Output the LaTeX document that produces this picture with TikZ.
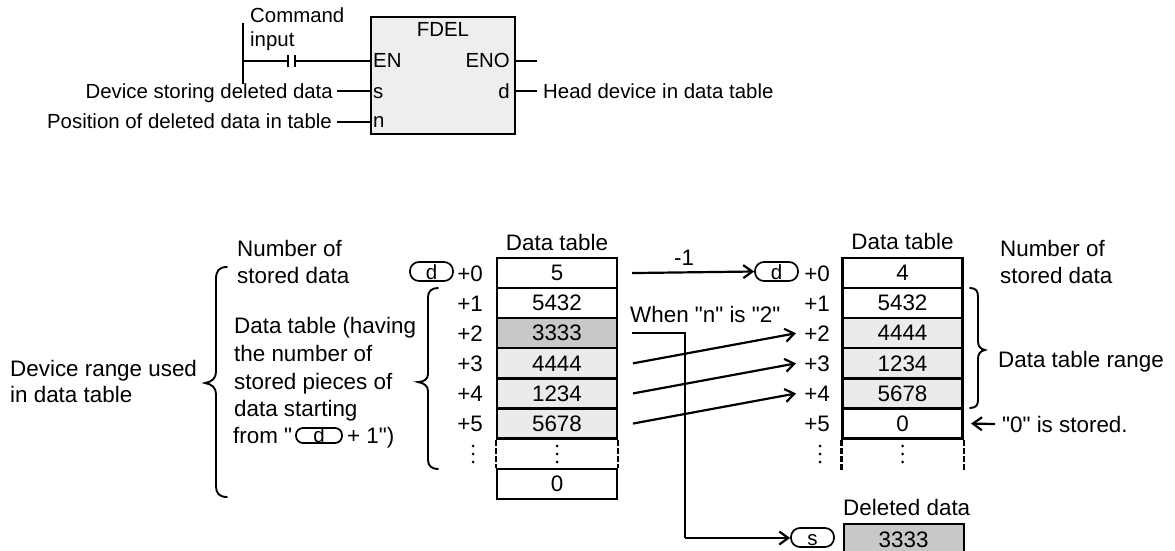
\documentclass[tikz,border=0pt]{standalone}
\usepackage{fontspec}
\setmainfont{Liberation Sans}
\usetikzlibrary{arrows.meta}
\definecolor{lightg}{HTML}{EBEBEB}
\definecolor{darkg}{HTML}{C8C8C8}
\definecolor{boxg}{HTML}{EEEEEE}
\newcommand\fontA{\fontsize{20.4}{24}\selectfont}
\newcommand\fontB{\fontsize{22.4}{26}\selectfont}
\newcommand\fontC{\fontsize{20.5}{24}\selectfont}
\newcommand\sq{\textquotedbl}
\tikzset{
  upl/.style={inner sep=0pt, font=\fontA},
  lbl/.style={inner sep=0pt, font=\fontB},
  cell/.style={draw, line width=2.3pt, minimum width=120pt, minimum height=30.1pt, inner sep=0pt, font=\fontB, anchor=center},
  devpill/.style={draw, line width=1.7pt, rounded corners=9pt, minimum width=43pt, minimum height=19pt, inner sep=0pt, text height=15pt, text depth=0pt, font=\fontC},
  conn/.style={line width=2.2pt},
  arr/.style={line width=2.2pt, -{Straight Barb[length=9pt,width=13pt,line width=2.2pt]}},
  bracepath/.style={line width=1.9pt, line cap=round},
  dotmark/.style={fill=black, draw=none},
}
\begin{document}
\begin{tikzpicture}[x=1pt,y=-1pt]
\useasboundingbox (0,0) rectangle (1175,551);

% ---------- upper function block ----------
\node[draw, fill=boxg, line width=2.3pt, minimum width=144pt, minimum height=117pt, inner sep=0pt, anchor=north west] (fdel) at (370,16) {};
\node[upl, anchor=base] (tfdel) at (443,37) {FDEL};
\node[upl, anchor=base west] (ten) at (373,67) {EN};
\node[upl, anchor=base east] (teno) at (510,67) {ENO};
\node[upl, anchor=base west] (ts) at (373,98) {s};
\node[upl, anchor=base east] (td) at (510,98) {d};
\node[upl, anchor=base west] (tn) at (373,127) {n};

\node[upl, anchor=base west] (tcmd) at (250,23) {Command};
\node[upl, anchor=base west] (tinp) at (250,47) {input};
\node[upl, anchor=base east] (tdev) at (333,98) {Device storing deleted data};
\node[upl, anchor=base east] (tpos) at (332,128) {Position of deleted data in table};
\node[upl, anchor=base west] (thead) at (543,99) {Head device in data table};

\coordinate (railtop) at (243,23);
\coordinate (railbot) at (243,84);
\coordinate (enrail) at (243,61);
\coordinate (c1) at (288,61);
\coordinate (c2) at (295,61);
\draw[conn] (railtop) -- (railbot);
\draw[conn] (enrail) -- (c1);
\draw[conn] (c1) ++(0,-6) -- ++(0,12);
\draw[conn] (c2) ++(0,-6) -- ++(0,12);
\draw[conn] (c2) -- (fdel.west |- c2);
\draw[conn] (337,91) coordinate (sL) -- (fdel.west |- sL);
\draw[conn] (337,122) coordinate (nL) -- (fdel.west |- nL);
\draw[conn] (fdel.east |- c2) -- (537,61) coordinate (enoR);
\draw[conn] (fdel.east |- sL) -- (537,91) coordinate (dR);

% ---------- left data table ----------
\node[lbl, anchor=base] (ldt) at (557,250) {Data table};
\node[cell, fill=white] (L0) at (557,273.05) {5};
\node[cell, fill=white] (L1) at (557,303.15) {5432};
\node[cell, fill=darkg] (L2) at (557,333.25) {3333};
\node[cell, fill=lightg] (L3) at (557,363.35) {4444};
\node[cell, fill=lightg] (L4) at (557,393.45) {1234};
\node[cell, fill=lightg] (L5) at (557,423.55) {5678};
\node[cell, fill=white] (L7) at (557,483.75) {0};
\draw[line width=2.3pt, dash pattern=on 6pt off 2pt] (L5.south west) -- (L7.north west);
\draw[line width=2.3pt, dash pattern=on 6pt off 2pt] (L5.south east) -- (L7.north east);
\foreach \yy in {446,454,462} {
  \fill[dotmark] (557,\yy) circle (1.5pt);
  \fill[dotmark] (473,\yy) circle (1.5pt);
}
\node[lbl, anchor=base east] (lp0) at (483,281) {+0};
\node[lbl, anchor=base east] (lp1) at (483,311) {+1};
\node[lbl, anchor=base east] (lp2) at (483,341) {+2};
\node[lbl, anchor=base east] (lp3) at (483,371) {+3};
\node[lbl, anchor=base east] (lp4) at (483,401) {+4};
\node[lbl, anchor=base east] (lp5) at (483,431) {+5};
\node[devpill] (pdL) at (431.5,271.5) {d};

% ---------- right data table ----------
\node[lbl, anchor=base] (rdt) at (902.5,249) {Data table};
\node[cell, fill=white] (R0) at (902.5,273.05) {4};
\node[cell, fill=white] (R1) at (902.5,303.15) {5432};
\node[cell, fill=lightg] (R2) at (902.5,333.25) {4444};
\node[cell, fill=lightg] (R3) at (902.5,363.35) {1234};
\node[cell, fill=lightg] (R4) at (902.5,393.45) {5678};
\node[cell, fill=white] (R5) at (902.5,423.55) {0};
\draw[line width=2.3pt, dash pattern=on 6pt off 2pt] (R5.south west) -- ++(0,30);
\draw[line width=2.3pt, dash pattern=on 6pt off 2pt] (R5.south east) -- ++(0,30);
\foreach \yy in {446,454,462} {
  \fill[dotmark] (902.5,\yy) circle (1.5pt);
  \fill[dotmark] (820,\yy) circle (1.5pt);
}
\node[lbl, anchor=base east] (rp0) at (830,281) {+0};
\node[lbl, anchor=base east] (rp1) at (830,311) {+1};
\node[lbl, anchor=base east] (rp2) at (830,341) {+2};
\node[lbl, anchor=base east] (rp3) at (830,371) {+3};
\node[lbl, anchor=base east] (rp4) at (830,401) {+4};
\node[lbl, anchor=base east] (rp5) at (830,431) {+5};
\node[devpill] (pdR) at (776.5,271.5) {d};

% ---------- deleted data ----------
\node[lbl, anchor=base west] (tdel) at (843,515) {Deleted data};
\node[draw, fill=darkg, line width=2.3pt, minimum width=120pt, minimum height=31pt, inner sep=0pt, font=\fontB, anchor=north west] (D0) at (842.5,523) {3333};
\node[devpill] (ps) at (812.5,537.5) {s};

% ---------- connectors ----------
\coordinate (m0a) at (632,273.05);
\draw[arr] (m0a) -- (pdR.west);
\node[lbl, anchor=base] (tm1) at (684,265) {-1};

\node[lbl, anchor=base west] (twhen) at (630,322) {When \sq n\sq{} is \sq 2\sq};
\coordinate (s2a) at (632,333.25);
\coordinate (s2b) at (685,333.25);
\coordinate (s2c) at (685,538);
\draw[conn] (s2a) -- (s2b) -- (s2c);
\draw[arr] (s2c) -- (ps.west |- s2c);

\coordinate (a3) at (633,363.35);
\coordinate (b2) at (796,333.25);
\coordinate (a4) at (633,393.45);
\coordinate (b3) at (796,363.35);
\coordinate (a5) at (633,423.55);
\coordinate (b4) at (796,393.45);
\draw[arr] (a3) -- (b2);
\draw[arr] (a4) -- (b3);
\draw[arr] (a5) -- (b4);

\coordinate (zs) at (995,424);
\draw[arr] (zs) -- (R5.east -| 971,0);
\node[lbl, anchor=base west] (tzero) at (1002,432) {\sq 0\sq{} is stored.};

% ---------- right side texts and brace ----------
\node[lbl, anchor=base west] (rnum1) at (1000,256) {Number of};
\node[lbl, anchor=base west] (rnum2) at (1000,283) {stored data};
\draw[bracepath] (970,288) .. controls (976,288) and (978,291) .. (978,297) -- (978,341) .. controls (978,346) and (980,349) .. (985,350) .. controls (980,351) and (978,354) .. (978,359) -- (978,400) .. controls (978,405) and (976,408) .. (970,408);
\node[lbl, anchor=base west] (trange) at (998,367) {Data table range};

% ---------- left side texts and braces ----------
\node[lbl, anchor=base west] (lnum1) at (237,256) {Number of};
\node[lbl, anchor=base west] (lnum2) at (237,283) {stored data};
\node[lbl, anchor=base west] (ldev1) at (10,376) {Device range used};
\node[lbl, anchor=base west] (ldev2) at (10,402) {in data table};
\draw[bracepath] (227,267) .. controls (219,267) and (216,271) .. (216,279) -- (216,372) .. controls (216,378) and (212,382) .. (205,383) .. controls (212,384) and (216,388) .. (216,394) -- (216,486) .. controls (216,493) and (219,497) .. (227,497);

\node[lbl, anchor=base west] (ld1) at (234,333) {Data table (having};
\node[lbl, anchor=base west] (ld2) at (234,361) {the number of};
\node[lbl, anchor=base west] (ld3) at (234,389) {stored pieces of};
\node[lbl, anchor=base west] (ld4) at (234,416) {data starting};
\node[lbl, anchor=base west] (ld5) at (233,443) {from \sq};
\node[devpill, minimum width=46pt, minimum height=15pt, rounded corners=7pt, text height=13pt] (pdin) at (319,435.5) {d};
\node[lbl, anchor=base west] (ld6) at (347,443) {+ 1\sq)};
\draw[bracepath] (438,288) .. controls (432,288) and (428,291) .. (428,297) -- (428,374) .. controls (428,379) and (424,382) .. (418,382) .. controls (424,383) and (428,386) .. (428,391) -- (428,460) .. controls (428,466) and (432,469) .. (438,469);
\end{tikzpicture}
\end{document}
